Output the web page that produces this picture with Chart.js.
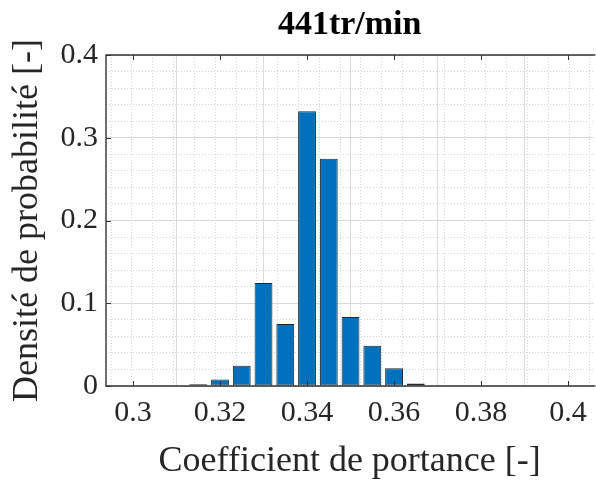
<!DOCTYPE html>
<html>
<head>
<meta charset="utf-8">
<script src="https://cdn.jsdelivr.net/npm/chart.js@4"></script>
<style>
  html, body { margin: 0; padding: 0; background: #fff; }
  #wrap { width: 596px; height: 488px; position: relative; }
</style>
</head>
<body>
<div id="wrap"><canvas id="histChart"></canvas></div>
<script>
// histogram data (bin centres / probability density)
const binCenters = [0.315, 0.32, 0.325, 0.33, 0.335, 0.34, 0.345, 0.35, 0.355, 0.36, 0.365];
const density = [0.002, 0.008, 0.0245, 0.1245, 0.075, 0.332, 0.2745, 0.0835, 0.0487, 0.0215, 0.003];

const xTicks = [0.3, 0.32, 0.34, 0.36, 0.38, 0.4];
const xTickLabels = ['0.3', '0.32', '0.34', '0.36', '0.38', '0.4'];
const xMinorTicks = [0.295, 0.3, 0.305, 0.31, 0.315, 0.32, 0.325, 0.33, 0.335, 0.34, 0.345, 0.35,
                     0.355, 0.36, 0.365, 0.37, 0.375, 0.38, 0.385, 0.39, 0.395, 0.4, 0.405];
const yTicks = [0, 0.1, 0.2, 0.3, 0.4];
const yTickLabels = ['0', '0.1', '0.2', '0.3', '0.4'];
const yMinorTicks = [0, 0.02, 0.04, 0.06, 0.08, 0.1, 0.12, 0.14, 0.16, 0.18, 0.2, 0.22, 0.24,
                     0.26, 0.28, 0.3, 0.32, 0.34, 0.36, 0.38, 0.4];

const chartTitle = '441tr/min';
const xTitle = 'Coefficient de portance [-]';
const yTitle = 'Densité de probabilité [-]';

const X_MIN = 0.2938, X_MAX = 0.4058;
const FONT = '"Liberation Serif", "Times New Roman", serif';
const AXIS_COLOR = '#333333';

function setTicks(values) {
    return function(scale) {
        scale.ticks = values.map(v => ({ value: v }));
    };
}

// MATLAB-like box with inward ticks
const boxPlugin = {
    id: 'boxPlugin',
    afterDatasetsDraw(chart) {
        const { ctx, chartArea } = chart;
        const xs = chart.scales.x, ys = chart.scales.y;
        const len = 5;
        ctx.save();
        ctx.strokeStyle = AXIS_COLOR;
        ctx.lineWidth = 1.4;
        ctx.beginPath();
        ctx.moveTo(chartArea.right + 2, chartArea.top);
        ctx.lineTo(chartArea.left, chartArea.top);
        ctx.lineTo(chartArea.left, chartArea.bottom);
        ctx.lineTo(chartArea.right + 2, chartArea.bottom);
        ctx.stroke();
        ctx.lineWidth = 1;
        ctx.beginPath();
        xTicks.forEach(v => {
            const px = Math.round(xs.getPixelForValue(v)) + 0.5;
            ctx.moveTo(px, chartArea.bottom);
            ctx.lineTo(px, chartArea.bottom - len);
            ctx.moveTo(px, chartArea.top);
            ctx.lineTo(px, chartArea.top + len);
        });
        yTicks.forEach(v => {
            const py = Math.round(ys.getPixelForValue(v)) + 0.5;
            ctx.moveTo(chartArea.left, py);
            ctx.lineTo(chartArea.left + len, py);
        });
        ctx.stroke();
        ctx.restore();
    }
};

const ctx = document.getElementById('histChart').getContext('2d');
const histChart = new Chart(ctx, {
    type: 'bar',
    data: {
        datasets: [{
            label: 'densité',
            data: binCenters.map((c, i) => ({ x: c, y: density[i] })),
            xAxisID: 'x',
            yAxisID: 'y',
            backgroundColor: '#0072BD',
            borderColor: '#262626',
            borderWidth: 1,
            borderSkipped: false,
            categoryPercentage: 0.82,
            barPercentage: 1.0
        }]
    },
    options: {
        responsive: true,
        maintainAspectRatio: false,
        animation: false,
        devicePixelRatio: 1,
        layout: { padding: { left: 6, right: 0, top: 0, bottom: 0 } },
        plugins: {
            legend: { display: false },
            tooltip: { enabled: false },
            title: { display: false }
        },
        scales: {
            x: {
                type: 'linear',
                position: 'bottom',
                min: X_MIN,
                max: X_MAX,
                offset: false,
                afterBuildTicks: setTicks(xTicks),
                afterFit(scale) { scale.height = 102; },
                ticks: {
                    color: '#262626',
                    font: { family: FONT, size: 30 },
                    padding: 9,
                    maxRotation: 0,
                    autoSkip: false,
                    callback: (v) => xTickLabels[xTicks.indexOf(v)]
                },
                grid: { color: '#dcdcdc', lineWidth: 1, drawTicks: false },
                border: { display: false },
                title: {
                    display: true,
                    text: xTitle,
                    color: '#262626',
                    font: { family: FONT, size: 36 },
                    padding: { top: 0, bottom: 5 }
                }
            },
            y: {
                type: 'linear',
                position: 'left',
                min: 0,
                max: 0.4,
                afterBuildTicks: setTicks(yTicks),
                afterFit(scale) { scale.width = 100; },
                ticks: {
                    color: '#262626',
                    font: { family: FONT, size: 30 },
                    padding: 8,
                    callback: (v) => yTickLabels[yTicks.indexOf(v)]
                },
                grid: { color: '#dcdcdc', lineWidth: 1, drawTicks: false },
                border: { display: false },
                title: {
                    display: true,
                    text: yTitle,
                    color: '#262626',
                    font: { family: FONT, size: 36 },
                    padding: { top: 0, bottom: 0 }
                }
            },
            // top axis only carries the title, centred over the plot area
            xTop: {
                type: 'linear',
                position: 'top',
                min: X_MIN,
                max: X_MAX,
                afterFit(scale) { scale.height = 55; },
                ticks: { display: false },
                grid: { display: false, drawTicks: false },
                border: { display: false },
                title: {
                    display: true,
                    text: chartTitle,
                    color: '#000',
                    font: { family: FONT, size: 34, weight: 'bold' },
                    padding: { top: 5, bottom: 0 }
                }
            },
            xMinor: {
                type: 'linear',
                position: 'bottom',
                min: X_MIN,
                max: X_MAX,
                afterBuildTicks: setTicks(xMinorTicks),
                ticks: { display: false },
                grid: { color: '#d4d4d4', lineWidth: 1, drawTicks: false },
                border: { display: false, dash: [1, 2] }
            },
            yMinor: {
                type: 'linear',
                position: 'left',
                min: 0,
                max: 0.4,
                afterBuildTicks: setTicks(yMinorTicks),
                ticks: { display: false },
                grid: { color: '#d4d4d4', lineWidth: 1, drawTicks: false },
                border: { display: false, dash: [1, 2] }
            }
        }
    },
    plugins: [boxPlugin]
});
</script>
</body>
</html>
